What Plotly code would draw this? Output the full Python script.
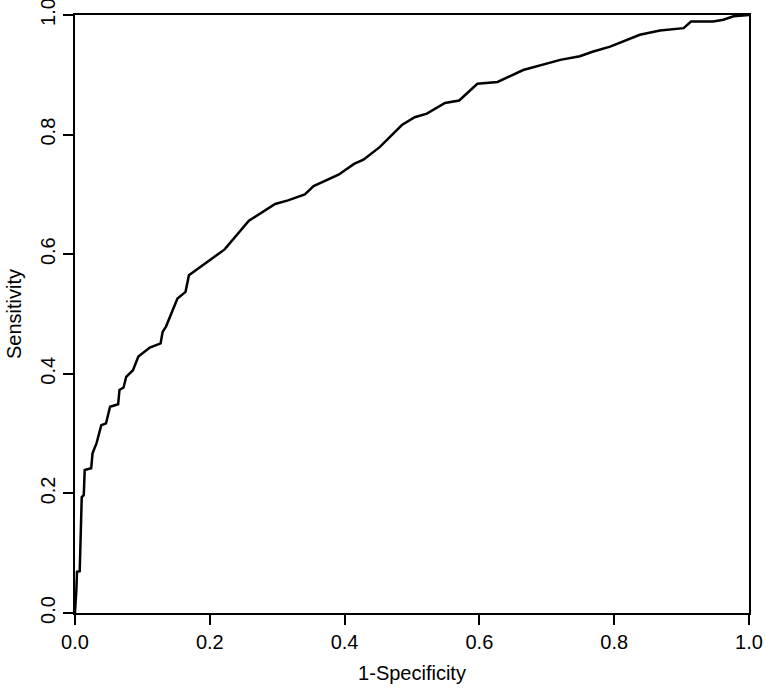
import plotly.graph_objects as go

# ROC curve points
fpr = [0.0, 0.0, 0.002, 0.003, 0.007, 0.009, 0.010, 0.013, 0.0144, 0.024, 0.026,
       0.032, 0.039, 0.046, 0.052, 0.064, 0.066, 0.072, 0.076, 0.086, 0.094,
       0.111, 0.127, 0.130, 0.135, 0.152, 0.164, 0.169, 0.183, 0.212, 0.222,
       0.258, 0.297, 0.316, 0.341, 0.354, 0.391, 0.414, 0.428, 0.452, 0.485,
       0.504, 0.522, 0.549, 0.570, 0.597, 0.627, 0.665, 0.690, 0.720, 0.749,
       0.769, 0.794, 0.838, 0.868, 0.903, 0.914, 0.947, 0.962, 0.977, 0.991, 1.0]
tpr = [0.0, 0.002, 0.038, 0.069, 0.070, 0.136, 0.194, 0.197, 0.239, 0.242, 0.267,
       0.284, 0.314, 0.317, 0.345, 0.349, 0.373, 0.377, 0.395, 0.406, 0.429,
       0.444, 0.451, 0.470, 0.479, 0.526, 0.537, 0.565, 0.576, 0.600, 0.608,
       0.656, 0.684, 0.690, 0.700, 0.714, 0.733, 0.751, 0.758, 0.779, 0.816,
       0.829, 0.835, 0.853, 0.857, 0.885, 0.888, 0.908, 0.916, 0.925, 0.931,
       0.939, 0.947, 0.967, 0.974, 0.978, 0.989, 0.989, 0.992, 0.998, 0.999, 1.0]

tick_vals = [0.0, 0.2, 0.4, 0.6, 0.8, 1.0]
tick_text = ["0.0", "0.2", "0.4", "0.6", "0.8", "1.0"]

font = dict(family="Liberation Sans, Arial, sans-serif", size=20, color="black")

fig = go.Figure(
    go.Scatter(x=fpr, y=tpr, mode="lines", line=dict(color="black", width=2.5),
               showlegend=False, cliponaxis=False, hoverinfo="skip")
)

axis_style = dict(
    range=[0, 1],
    tickvals=tick_vals,
    ticktext=tick_text,
    showgrid=False,
    zeroline=False,
    showline=True,
    mirror=True,
    linecolor="black",
    linewidth=2,
    ticks="outside",
    ticklen=10,
    tickwidth=2,
    tickcolor="black",
    tickfont=font,
    ticklabeloverflow="allow",
    automargin=False,
)

fig.update_layout(
    width=765,
    height=689,
    margin=dict(l=75, r=16, t=15, b=76),
    plot_bgcolor="white",
    paper_bgcolor="white",
    font=font,
    xaxis=dict(**axis_style, title=dict(text="1-Specificity", font=font, standoff=14)),
    yaxis=dict(**axis_style, tickangle=-90,
               title=dict(text="Sensitivity", font=font, standoff=10)),
)

# drop the browser's default body margin so the figure sits at the page corner
fig.write_html("out.html", config={"displayModeBar": False},
               post_script="document.body.style.margin='0';")
